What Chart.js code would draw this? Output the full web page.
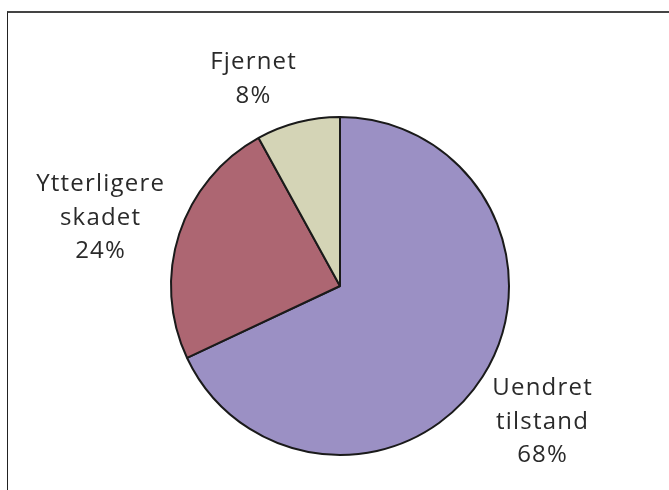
<!DOCTYPE html>
<html>
<head>
<meta charset="utf-8">
<script src="https://cdn.jsdelivr.net/npm/chart.js@4.4.1/dist/chart.umd.min.js"></script>
<style>
  html, body { margin: 0; padding: 0; background: #fff; }
  #wrap { position: relative; width: 669px; height: 490px; overflow: hidden; }
  #frame {
    position: absolute; left: 7px; top: 11px; width: 720px; height: 520px;
    border-top: 2px solid #444; border-left: 1px solid #222;
  }
  canvas { position: absolute; left: 0; top: 0; }
</style>
</head>
<body>
<div id="wrap">
  <div id="frame"></div>
  <canvas id="pie" width="669" height="490"></canvas>
</div>
<script>
// data
const labels = ["Uendret tilstand", "Ytterligere skadet", "Fjernet"];
const labelLines = [["Uendret", "tilstand"], ["Ytterligere", "skadet"], ["Fjernet"]];
const values = [68, 24, 8];
const colors = ["#9b90c4", "#ad6672", "#d4d4b6"];

// where each text block sits relative to the pie centre (first baseline)
const labelOffsets = [
  { dx: 202, dy: 109 },
  { dx: -240, dy: -95 },
  { dx: -87, dy: -217 },
];

const pieLabels = {
  id: "pieLabels",
  afterDatasetsDraw(chart) {
    const ctx = chart.ctx;
    const meta = chart.getDatasetMeta(0);
    const spacing = 1.2;
    ctx.save();
    ctx.fillStyle = "#2a2a2a";
    ctx.font = "24px 'Open Sans'";
    ctx.letterSpacing = spacing + "px";
    ctx.textAlign = "center";
    ctx.textBaseline = "alphabetic";
    meta.data.forEach((arc, i) => {
      const off = labelOffsets[i];
      const lines = labelLines[i].concat([values[i] + "%"]);
      lines.forEach((t, j) => {
        ctx.fillText(t, arc.x + off.dx + spacing / 2, arc.y + off.dy + j * 33.5);
      });
    });
    ctx.restore();
  },
};

new Chart(document.getElementById("pie"), {
  type: "pie",
  data: {
    labels: labels,
    datasets: [
      {
        data: values,
        backgroundColor: colors,
        borderColor: "#1a1a1a",
        borderWidth: 2,
      },
    ],
  },
  options: {
    responsive: false,
    animation: false,
    layout: { padding: { left: 100, right: 89, top: 116, bottom: 34 } },
    plugins: {
      legend: { display: false },
      tooltip: { enabled: false },
    },
  },
  plugins: [pieLabels],
});
</script>
</body>
</html>
